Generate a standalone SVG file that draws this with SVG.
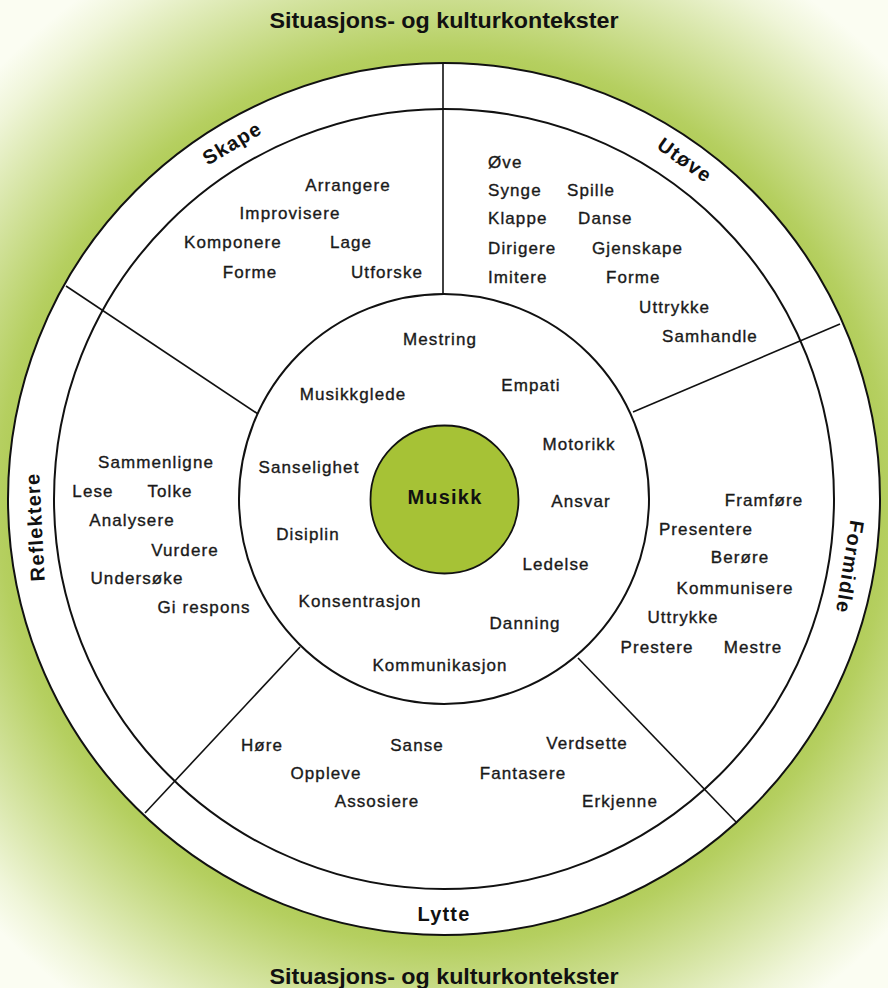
<svg xmlns="http://www.w3.org/2000/svg" width="888" height="988" viewBox="0 0 888 988">
<defs>
<radialGradient id="bg" cx="444" cy="499" r="620" gradientUnits="userSpaceOnUse">
<stop offset="0.6" stop-color="#a2c23c"/>
<stop offset="0.72" stop-color="#b5cf60"/>
<stop offset="0.83" stop-color="#d2e29c"/>
<stop offset="0.94" stop-color="#eff5d8"/>
<stop offset="1" stop-color="#fbfdf2"/>
</radialGradient>
<style>
.ring{fill:#ffffff;stroke:#111;stroke-width:2}
.line{stroke:#111;stroke-width:1.6;fill:none}
.w{font-family:"Liberation Sans",Arial,sans-serif;font-size:17px;letter-spacing:1.1px;fill:#1a1a1a;stroke:#1a1a1a;stroke-width:0.35;text-anchor:middle}
.s{text-anchor:start}
.lab{font-family:"Liberation Sans",Arial,sans-serif;font-size:20px;letter-spacing:1.2px;font-weight:bold;fill:#111;text-anchor:middle}
.title{font-family:"Liberation Sans",Arial,sans-serif;font-size:22px;font-weight:bold;fill:#111;text-anchor:middle}
</style>
</defs>
<rect width="888" height="988" fill="url(#bg)"/>
<g id="title-top"><text class="title" x="444" y="28" textLength="349" lengthAdjust="spacingAndGlyphs">Situasjons- og kulturkontekster</text></g>
<g id="title-bottom"><text class="title" x="444" y="984" textLength="349" lengthAdjust="spacingAndGlyphs">Situasjons- og kulturkontekster</text></g>
<g id="rings">
<circle class="ring" cx="444" cy="499" r="436"/>
<circle class="ring" cx="444" cy="499" r="390"/>
<circle class="ring" cx="444" cy="499" r="205"/>
</g>
<g id="connectors">
<line class="line" x1="443" y1="63" x2="443" y2="294"/>
<line class="line" x1="66" y1="286" x2="258" y2="414"/>
<line class="line" x1="840" y1="324" x2="633" y2="412"/>
<line class="line" x1="145" y1="813" x2="300" y2="647"/>
<line class="line" x1="737" y1="823" x2="578" y2="658"/>
</g>
<g id="musikk">
<circle cx="444.5" cy="499.5" r="74" fill="#a6c236" stroke="#111" stroke-width="1.8"/>
<text x="445" y="504" style="font-family:'Liberation Sans',Arial,sans-serif;font-size:20px;letter-spacing:1.2px;font-weight:bold;fill:#111;text-anchor:middle">Musikk</text>
</g>
<g id="verdier">
<text class="w" x="440" y="345">Mestring</text>
<text class="w" x="353" y="400">Musikkglede</text>
<text class="w" x="531" y="391">Empati</text>
<text class="w" x="579" y="450">Motorikk</text>
<text class="w" x="309" y="473">Sanselighet</text>
<text class="w" x="581" y="507">Ansvar</text>
<text class="w" x="308" y="540">Disiplin</text>
<text class="w" x="556" y="570">Ledelse</text>
<text class="w" x="360" y="607">Konsentrasjon</text>
<text class="w" x="525" y="629">Danning</text>
<text class="w" x="440" y="671">Kommunikasjon</text>
</g>
<g id="skape">
<text class="lab" transform="translate(232,143) rotate(-30.8)" y="7">Skape</text>
<text class="w" x="348" y="191">Arrangere</text>
<text class="w" x="290" y="219">Improvisere</text>
<text class="w" x="233" y="248">Komponere</text>
<text class="w" x="351" y="248">Lage</text>
<text class="w" x="250" y="278">Forme</text>
<text class="w" x="387" y="278">Utforske</text>
</g>
<g id="utove">
<text class="lab" transform="translate(685,160) rotate(35.4)" y="7">Utøve</text>
<text class="w s" x="488" y="168">Øve</text>
<text class="w s" x="488" y="196">Synge</text>
<text class="w s" x="567" y="196">Spille</text>
<text class="w s" x="488" y="224">Klappe</text>
<text class="w s" x="578" y="224">Danse</text>
<text class="w s" x="488" y="254">Dirigere</text>
<text class="w s" x="592" y="254">Gjenskape</text>
<text class="w s" x="488" y="283">Imitere</text>
<text class="w s" x="606" y="283">Forme</text>
<text class="w s" x="639" y="313">Uttrykke</text>
<text class="w s" x="662" y="342">Samhandle</text>
</g>
<g id="reflektere">
<text class="lab" transform="translate(35,527) rotate(-93)" y="7">Reflektere</text>
<text class="w" x="156" y="468">Sammenligne</text>
<text class="w" x="93" y="497">Lese</text>
<text class="w" x="170" y="497">Tolke</text>
<text class="w" x="132" y="526">Analysere</text>
<text class="w" x="185" y="556">Vurdere</text>
<text class="w" x="137" y="584">Undersøke</text>
<text class="w" x="204" y="613">Gi respons</text>
</g>
<g id="formidle">
<text class="lab" transform="translate(850,567) rotate(99)" y="7">Formidle</text>
<text class="w" x="764" y="506">Framføre</text>
<text class="w" x="706" y="535">Presentere</text>
<text class="w" x="740" y="563">Berøre</text>
<text class="w" x="735" y="594">Kommunisere</text>
<text class="w" x="683" y="623">Uttrykke</text>
<text class="w" x="657" y="653">Prestere</text>
<text class="w" x="753" y="653">Mestre</text>
</g>
<g id="lytte">
<text class="lab" x="444" y="921">Lytte</text>
<text class="w" x="262" y="751">Høre</text>
<text class="w" x="417" y="751">Sanse</text>
<text class="w" x="587" y="749">Verdsette</text>
<text class="w" x="326" y="779">Oppleve</text>
<text class="w" x="523" y="779">Fantasere</text>
<text class="w" x="377" y="807">Assosiere</text>
<text class="w" x="620" y="807">Erkjenne</text>
</g>
</svg>
